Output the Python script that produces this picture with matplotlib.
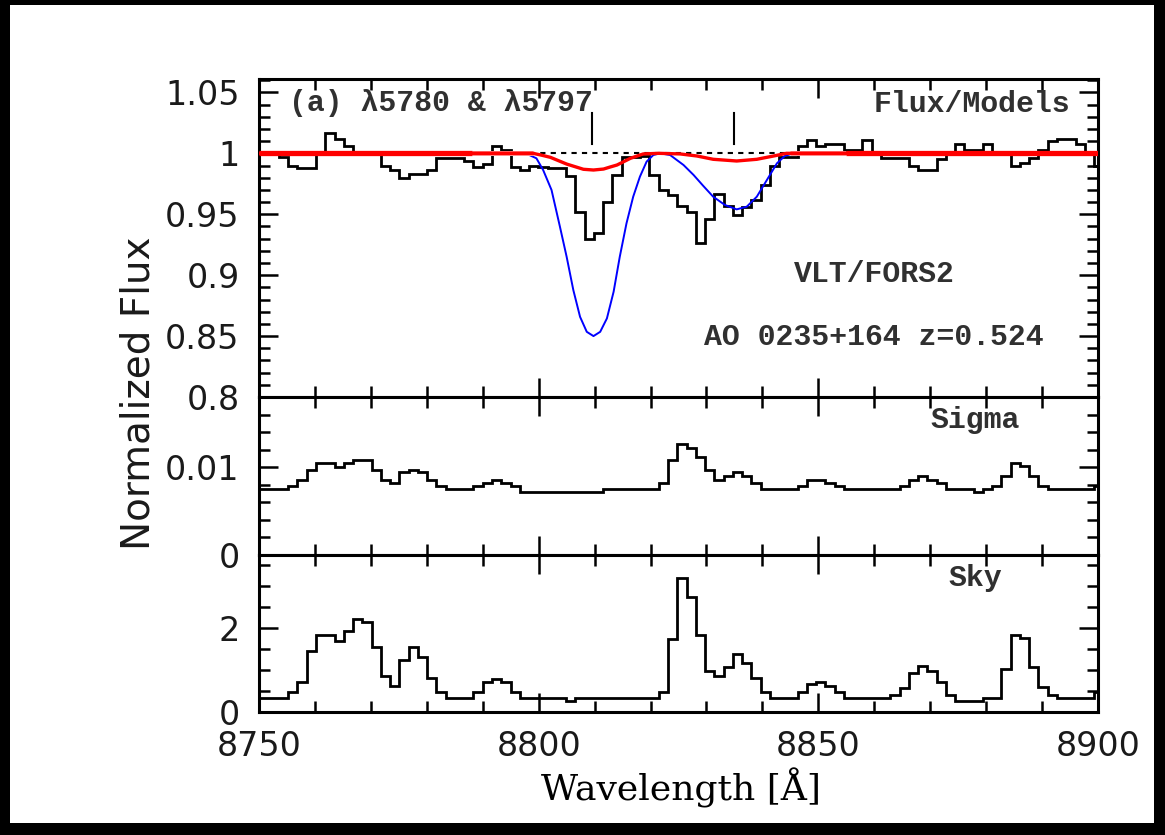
import matplotlib
matplotlib.use("Agg")
import matplotlib.pyplot as plt
from matplotlib.ticker import MultipleLocator, FormatStrFormatter
from matplotlib.patches import Rectangle
import numpy as np

# spectrum pixel grid (Angstrom)
first_edge = 8748.6
bin_width = 1.656

# normalized flux per pixel
flux = [1.000, 1.000, 1.000, 0.997, 0.990, 0.988, 0.988, 1.000, 1.017, 1.012,
        1.006, 1.001, 1.000, 1.000, 0.990, 0.986, 0.980, 0.983, 0.983, 0.986,
        0.996, 0.996, 0.996, 0.994, 0.989, 0.991, 1.006, 1.003, 0.989, 0.986,
        0.990, 0.989, 0.988, 0.988, 0.981, 0.952, 0.930, 0.935, 0.960, 0.982,
        0.997, 0.997, 0.998, 0.982, 0.970, 0.966, 0.957, 0.952, 0.926, 0.946,
        0.967, 0.957, 0.949, 0.956, 0.962, 0.974, 0.990, 0.997, 0.997, 1.006,
        1.011, 1.006, 1.008, 1.008, 1.003, 1.003, 1.011, 1.000, 0.996, 0.996,
        0.996, 0.990, 0.986, 0.986, 0.995, 1.000, 1.008, 1.003, 1.003, 1.008,
        1.000, 1.000, 0.990, 0.992, 0.996, 1.003, 1.010, 1.012, 1.012, 1.008,
        1.000, 0.990]

sigma = [0.0075, 0.0075, 0.0075, 0.0075, 0.0079, 0.0086, 0.0097, 0.0105, 0.0105, 0.0100,
         0.0105, 0.0108, 0.0108, 0.0097, 0.0086, 0.0082, 0.0094, 0.0097, 0.0094, 0.0086,
         0.0079, 0.0075, 0.0075, 0.0075, 0.0079, 0.0082, 0.0086, 0.0082, 0.0079, 0.0072,
         0.0072, 0.0072, 0.0072, 0.0072, 0.0072, 0.0072, 0.0072, 0.0072, 0.0075, 0.0075,
         0.0075, 0.0075, 0.0075, 0.0075, 0.0082, 0.0108, 0.0127, 0.0122, 0.0112, 0.0097,
         0.0086, 0.0090, 0.0094, 0.0090, 0.0082, 0.0075, 0.0075, 0.0075, 0.0075, 0.0079,
         0.0086, 0.0086, 0.0082, 0.0079, 0.0075, 0.0075, 0.0075, 0.0075, 0.0075, 0.0075,
         0.0079, 0.0086, 0.0090, 0.0086, 0.0082, 0.0075, 0.0075, 0.0075, 0.0072, 0.0075,
         0.0079, 0.0090, 0.0105, 0.0101, 0.0090, 0.0079, 0.0075, 0.0075, 0.0075, 0.0075,
         0.0075, 0.0079]

sky = [0.33, 0.33, 0.33, 0.33, 0.47, 0.71, 1.46, 1.83, 1.83, 1.70,
       1.94, 2.21, 2.15, 1.54, 0.86, 0.63, 1.25, 1.56, 1.32, 0.80,
       0.47, 0.34, 0.34, 0.34, 0.47, 0.71, 0.79, 0.71, 0.47, 0.34,
       0.34, 0.34, 0.34, 0.34, 0.26, 0.34, 0.34, 0.34, 0.34, 0.34,
       0.34, 0.34, 0.34, 0.34, 0.47, 1.75, 3.20, 2.75, 1.83, 0.98,
       0.86, 1.08, 1.38, 1.16, 0.80, 0.48, 0.34, 0.34, 0.34, 0.48,
       0.66, 0.71, 0.63, 0.48, 0.34, 0.34, 0.34, 0.34, 0.34, 0.40,
       0.56, 0.94, 1.10, 0.98, 0.71, 0.40, 0.26, 0.26, 0.26, 0.34,
       0.34, 1.02, 1.83, 1.76, 1.08, 0.59, 0.40, 0.34, 0.34, 0.34,
       0.34, 0.47]

# DIB models
blue_wave = [8750, 8797.9, 8799.6, 8800.8, 8802.3, 8803.8, 8805.0, 8806.2, 8807.4, 8808.6,
             8809.8, 8811.0, 8812.2, 8813.4, 8814.5, 8815.7, 8816.9, 8818.1, 8819.3, 8820.5,
             8821.7, 8823.5, 8825.9, 8827.7, 8829.4, 8831.2, 8833.3, 8835.4, 8837.2, 8839.0,
             8840.8, 8842.6, 8844.0, 8845.5, 8900]
blue_flux = [1.0, 0.9995, 0.9959, 0.9863, 0.9699, 0.9398, 0.9151, 0.8877, 0.8658, 0.8535,
             0.8500, 0.8535, 0.8645, 0.8864, 0.9151, 0.9425, 0.9644, 0.9808, 0.9932, 0.9986,
             1.0, 0.9986, 0.9904, 0.9822, 0.9734, 0.9644, 0.9576, 0.9540, 0.9562, 0.9644,
             0.9781, 0.9918, 0.9978, 1.0, 1.0]

red_wave = [8750, 8799.0, 8800.5, 8802.1, 8805.0, 8808.0, 8809.8, 8811.6, 8812.8, 8814.0,
            8816.4, 8818.7, 8821.5, 8825.3, 8828.3, 8831.2, 8835.4, 8839.0, 8842.0, 8844.3, 8900]
red_flux = [1.0, 1.0, 0.9985, 0.9967, 0.9912, 0.9869, 0.9863, 0.9871, 0.9888, 0.9904,
            0.9959, 0.9995, 1.0, 0.9995, 0.9978, 0.9951, 0.9937, 0.9951, 0.9978, 1.0, 1.0]

# continuum drawn thick outside the fit window, faded at its edges
cont_thick = [(8750, 8788), (8855, 8900)]
cont_faded = [(8788, 8799), (8845, 8855)]

dib_marks = [8809.5, 8834.9]

W, H = 1165, 835
edges = first_edge + bin_width * np.arange(len(flux) + 1)

fig = plt.figure(figsize=(W / 100, H / 100), dpi=100, facecolor="black")
fig.patches.append(Rectangle((10 / W, 12 / H), (W - 21) / W, (H - 17) / H,
                             transform=fig.transFigure, facecolor="white",
                             edgecolor="none", zorder=-5))

gs = fig.add_gridspec(3, 1, height_ratios=[318, 158, 157], left=259 / W, right=1098 / W,
                      top=1 - 79 / H, bottom=1 - 712 / H, hspace=0)
ax1 = fig.add_subplot(gs[0])
ax2 = fig.add_subplot(gs[1], sharex=ax1)
ax3 = fig.add_subplot(gs[2], sharex=ax1)


def style(ax, ymaj, ymin):
    ax.set_xlim(8750, 8900)
    ax.xaxis.set_major_locator(MultipleLocator(50))
    ax.xaxis.set_minor_locator(MultipleLocator(10))
    ax.yaxis.set_major_locator(MultipleLocator(ymaj))
    ax.yaxis.set_minor_locator(MultipleLocator(ymin))
    ax.yaxis.set_major_formatter(FormatStrFormatter("%g"))
    ax.tick_params(which="both", direction="in", top=True, right=True, width=1.8,
                   labelsize=24, labelcolor="#1a1a1a")
    ax.tick_params(which="major", length=14)
    ax.tick_params(which="minor", length=8)
    ax.tick_params(axis="x", pad=13)
    ax.tick_params(axis="y", pad=14)
    for s in ax.spines.values():
        s.set_linewidth(2.2)


# top panel: flux and models
ax1.axhline(1.0, color="black", lw=1.5, ls=(0, (2.5, 2.5)), zorder=1)
ax1.stairs(flux, edges, baseline=None, color="black", lw=2.0, zorder=2)
ax1.plot(blue_wave, blue_flux, color="blue", lw=1.4, zorder=3)
for a, b in cont_faded:
    ax1.plot([a, b], [1.0, 1.0], color="#ff8c8c", lw=3.6, zorder=4, solid_capstyle="butt")
for a, b in cont_thick:
    ax1.plot([a, b], [1.0, 1.0], color="red", lw=3.8, zorder=5, solid_capstyle="butt")
ax1.plot(red_wave, red_flux, color="red", lw=2.4, zorder=5)
for m in dib_marks:
    ax1.plot([m, m], [1.0078, 1.0333], color="black", lw=1.5, zorder=4)
ax1.set_ylim(0.8, 1.061)
style(ax1, 0.05, 0.01)
ax1.tick_params(labelbottom=False)

# middle panel: sigma
ax2.stairs(sigma, edges, baseline=None, color="black", lw=2.0)
ax2.set_ylim(0, 0.018)
style(ax2, 0.01, 0.002)
ax2.tick_params(labelbottom=False)

# bottom panel: sky
ax3.stairs(sky, edges, baseline=None, color="black", lw=2.0)
ax3.set_ylim(0, 3.74)
style(ax3, 2, 0.5)
ax3.xaxis.set_major_formatter(FormatStrFormatter("%d"))

mono = dict(family="Liberation Mono", weight="bold", fontsize=21.5, color="#303030")


def ftext(x, y, s, **kw):
    fig.text(x / W, 1 - y / H, s, **kw)


ftext(289, 103, "(a) λ5780 & λ5797", ha="left", va="center", **mono)
ftext(1070, 104, "Flux/Models", ha="right", va="center", **mono)
ftext(874, 274, "VLT/FORS2", ha="center", va="center", **mono)
ftext(874, 337, "AO 0235+164 z=0.524", ha="center", va="center", **mono)
ftext(975, 420, "Sigma", ha="center", va="center", **mono)
ftext(975, 578, "Sky", ha="center", va="center", **mono)

ftext(139, 393, "Normalized Flux", rotation=90, ha="center", va="center",
      family="DejaVu Sans", fontsize=28, color="#1a1a1a")
ftext(681, 788, "Wavelength [Å]", ha="center", va="center",
      family="DejaVu Serif", fontsize=26)

fig.savefig("out.png", dpi=100, facecolor=fig.get_facecolor())
